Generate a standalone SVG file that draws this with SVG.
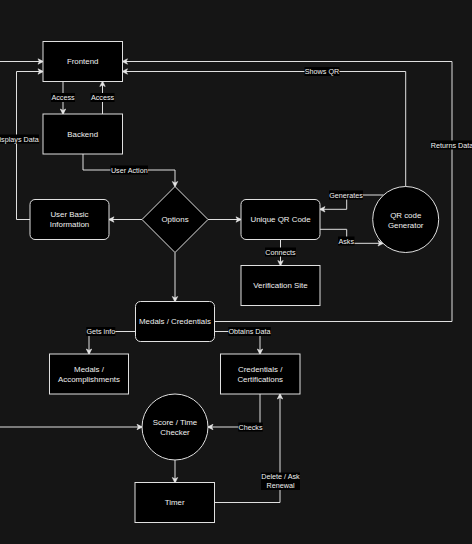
<svg xmlns="http://www.w3.org/2000/svg" width="472" height="544" viewBox="0 0 472 544">
<defs>
<marker id="arr" markerUnits="userSpaceOnUse" markerWidth="8" markerHeight="8" viewBox="-1 -4 8 8" refX="5" refY="0" orient="auto">
<path d="M0,-2.7 L5.5,0 L0,2.7 L1.4,0 Z" fill="#e6e6e6" stroke="#e6e6e6" stroke-width="0.6"/>
</marker>
<style>
.n{fill:#000;stroke:#e0e0e0;stroke-width:1}
.t{font-family:"Liberation Sans",Arial,sans-serif;font-size:7.9px;fill:#f0f0f0;text-anchor:middle}
.e{fill:none;stroke:#e0e0e0;stroke-width:1;marker-end:url(#arr)}
.p{fill:none;stroke:#e0e0e0;stroke-width:1}
.lb{fill:#000}
.lt{font-family:"Liberation Sans",Arial,sans-serif;font-size:7.2px;fill:#f0f0f0;text-anchor:middle}
</style>
</defs>
<rect width="472" height="544" fill="#151515"/>

<g id="connectors">
<path class="e" d="M0,61.5 H43"/>
<path class="e" d="M30,219.5 H16.5 V71.5 H43"/>
<path class="e" d="M63,81.5 V114"/>
<path class="e" d="M102.5,114 V81.5"/>
<path class="e" d="M83,154 V170 H175 V186.5"/>
<path class="e" d="M142,219.5 H109"/>
<path class="e" d="M208,219.5 H241"/>
<path class="e" d="M175,252.5 V301.5"/>
<path class="e" d="M383.4,195 H346.7 V209.3 H320"/>
<path class="e" d="M320,229.3 H346.7 V243.3 H383"/>
<path class="e" d="M280.5,239.5 V265.5"/>
<path class="e" d="M405.7,186.3 V71.5 H122.5"/>
<path class="e" d="M214.5,321.5 H452 V61.5 H122.5"/>
<path class="e" d="M135.5,331.5 H89 V354"/>
<path class="e" d="M214.5,331.5 H260 V354"/>
<path class="e" d="M0,427 H142"/>
<path class="e" d="M260,394 V427 H208"/>
<path class="e" d="M175,460 V482.5"/>
<path class="e" d="M214.5,502.5 H280 V394"/>

<rect class="lb" x="-6" y="134.5" width="45" height="9"/>
<text class="lt" x="16.5" y="141.6">Displays Data</text>
<rect class="lb" x="51" y="93" width="24" height="9"/>
<text class="lt" x="63" y="100">Access</text>
<rect class="lb" x="90.5" y="93" width="24" height="9"/>
<text class="lt" x="102.5" y="100">Access</text>
<rect class="lb" x="110.5" y="165.5" width="37.5" height="9"/>
<text class="lt" x="129.3" y="172.6">User Action</text>
<rect class="lb" x="304.5" y="67" width="35" height="9"/>
<text class="lt" x="322" y="74">Shows QR</text>
<rect class="lb" x="430.5" y="140.5" width="43" height="9"/>
<text class="lt" x="452" y="147.6">Returns Data</text>
<rect class="lb" x="329" y="190.5" width="34" height="9"/>
<text class="lt" x="346" y="197.6">Generates</text>
<rect class="lb" x="338" y="236.5" width="16.5" height="9"/>
<text class="lt" x="346.2" y="243.6">Asks</text>
<rect class="lb" x="265" y="247.5" width="31" height="9"/>
<text class="lt" x="280.5" y="254.6">Connects</text>
<rect class="lb" x="86.3" y="327" width="29" height="9"/>
<text class="lt" x="100.8" y="334">Gets info</text>
<rect class="lb" x="228.3" y="327" width="42.5" height="9"/>
<text class="lt" x="249.5" y="334">Obtains Data</text>
<rect class="lb" x="238.3" y="422.5" width="24.5" height="9"/>
<text class="lt" x="250.5" y="429.6">Checks</text>
<rect class="lb" x="261" y="472.5" width="39" height="17.5"/>
<text class="lt" x="280.5" y="478.8">Delete / Ask</text>
<text class="lt" x="280.5" y="488">Renewal</text>
</g>

<g id="frontend">
<rect class="n" x="43" y="41.5" width="79.5" height="40"/>
<text class="t" x="82.7" y="64.3">Frontend</text>
</g>
<g id="backend">
<rect class="n" x="43" y="114" width="79.5" height="40"/>
<text class="t" x="82.7" y="136.8">Backend</text>
</g>
<g id="options">
<path class="n" d="M175,186.5 L208,219.5 L175,252.5 L142,219.5 Z"/>
<text class="t" x="175" y="222.3">Options</text>
</g>
<g id="user-basic-info">
<rect class="n" x="30" y="199.5" width="79" height="40" rx="5"/>
<text class="t" x="69.5" y="217.1">User Basic</text>
<text class="t" x="69.5" y="226.8">Information</text>
</g>
<g id="unique-qr">
<rect class="n" x="241" y="199.5" width="79" height="40" rx="5"/>
<text class="t" x="280.5" y="222.3">Unique QR Code</text>
</g>
<g id="qr-generator">
<circle class="n" cx="405.7" cy="219.5" r="33"/>
<text class="t" x="405.7" y="217.8">QR code</text>
<text class="t" x="405.7" y="227.7">Generator</text>
</g>
<g id="verification-site">
<rect class="n" x="241" y="265.5" width="79" height="40"/>
<text class="t" x="280.5" y="288.3">Verification Site</text>
</g>
<g id="medals-credentials">
<rect class="n" x="135.5" y="301.5" width="79" height="40" rx="5"/>
<text class="t" x="175" y="324.3">Medals / Credentials</text>
</g>
<g id="medals-accomplishments">
<rect class="n" x="49.5" y="354" width="79" height="40"/>
<text class="t" x="89" y="372.1">Medals /</text>
<text class="t" x="89" y="382.1">Accomplishments</text>
</g>
<g id="credentials-certifications">
<rect class="n" x="220.5" y="354" width="79.5" height="40"/>
<text class="t" x="260.2" y="372.1">Credentials /</text>
<text class="t" x="260.2" y="382.1">Certifications</text>
</g>
<g id="score-time-checker">
<circle class="n" cx="175" cy="427" r="33"/>
<text class="t" x="175" y="424.8">Score / Time</text>
<text class="t" x="175" y="434.8">Checker</text>
</g>
<g id="timer">
<rect class="n" x="135" y="482.5" width="79.5" height="40"/>
<text class="t" x="174.7" y="505.3">Timer</text>
</g>
</svg>
